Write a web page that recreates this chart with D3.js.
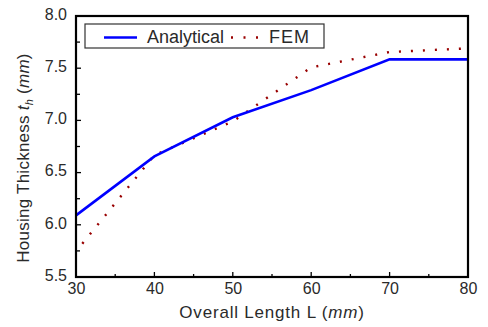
<!DOCTYPE html>
<html>
<head>
<meta charset="utf-8">
<script src="https://cdn.jsdelivr.net/npm/d3@7"></script>
<style>
  html, body { margin: 0; padding: 0; background: #fff; }
  svg { display: block; font-family: "Liberation Sans", Arial, sans-serif; }
</style>
</head>
<body>
<svg id="chart" width="488" height="327"></svg>
<script>
// ---- data ----
const lengthsAnalytical = [30, 40, 50, 60, 70, 80];
const thicknessAnalytical = [6.09, 6.655, 7.03, 7.29, 7.585, 7.585];
const lengthsFEM = [30, 40, 50, 60, 70, 80];
const thicknessFEM = [5.745, 6.668, 6.99, 7.508, 7.655, 7.69];
const xTicks = [30, 40, 50, 60, 70, 80];
const yTicks = [5.5, 6.0, 6.5, 7.0, 7.5, 8.0];
const seriesNames = ["Analytical", "FEM"];

(function () {
// ---- layout ----
const svg = d3.select("#chart");
const mL = 76, mR = 468, mT = 16, mB = 277;
const textColor = "#2a2a2a";
const x = d3.scaleLinear().domain([30, 80]).range([mL, mR]);
const y = d3.scaleLinear().domain([5.5, 8.0]).range([mB, mT]);

// minor ticks
const xMinor = d3.range(35, 80, 10);
const yMinor = d3.range(5.75, 8.0, 0.5);

// axes (ticks inside)
const xAxis = d3.axisBottom(x).tickValues(xTicks).tickFormat(d3.format("d")).tickSize(0).tickPadding(6);
const yAxis = d3.axisLeft(y).tickValues(yTicks).tickFormat(d3.format(".1f")).tickSize(0).tickPadding(9);

const gx = svg.append("g").attr("transform", `translate(0,${mB})`).call(xAxis);
gx.select(".domain").remove();
gx.selectAll("text").attr("font-size", 16).attr("fill", textColor).attr("font-family", "Liberation Sans, Arial, sans-serif");

const gy = svg.append("g").attr("transform", `translate(${mL},0)`).call(yAxis);
gy.select(".domain").remove();
gy.selectAll("text").attr("font-size", 16).attr("fill", textColor).attr("dy", "0.2em").attr("font-family", "Liberation Sans, Arial, sans-serif");

// tick marks inside
const tickG = svg.append("g").attr("stroke", "#000").attr("stroke-width", 1.3);
tickG.selectAll(".xt").data(xTicks).join("line")
  .attr("x1", d => x(d)).attr("x2", d => x(d)).attr("y1", mB).attr("y2", mB - 5);
tickG.selectAll(".xm").data(xMinor).join("line")
  .attr("x1", d => x(d)).attr("x2", d => x(d)).attr("y1", mB).attr("y2", mB - 3);
tickG.selectAll(".yt").data(yTicks).join("line")
  .attr("y1", d => y(d)).attr("y2", d => y(d)).attr("x1", mL).attr("x2", mL + 5);
tickG.selectAll(".ym").data(yMinor).join("line")
  .attr("y1", d => y(d)).attr("y2", d => y(d)).attr("x1", mL).attr("x2", mL + 4);

// lines
const lineGen = d3.line().x(d => x(d[0])).y(d => y(d[1]));
const fem = lengthsFEM.map((l, i) => [l, thicknessFEM[i]]);
const ana = lengthsAnalytical.map((l, i) => [l, thicknessAnalytical[i]]);

svg.append("path").datum(fem)
  .attr("d", lineGen)
  .attr("fill", "none").attr("stroke", "#990000").attr("stroke-width", 2.4)
  .attr("stroke-dasharray", "2 10").attr("stroke-dashoffset", 2);

svg.append("path").datum(ana)
  .attr("d", lineGen)
  .attr("fill", "none").attr("stroke", "#0000ff").attr("stroke-width", 2.6);

// frame
svg.append("rect").attr("x", mL).attr("y", mT).attr("width", mR - mL).attr("height", mB - mT)
  .attr("fill", "none").attr("stroke", "#000").attr("stroke-width", 2.2);

// legend
const lg = svg.append("g");
lg.append("rect").attr("x", 85).attr("y", 24).attr("width", 239).attr("height", 24)
  .attr("fill", "#fff").attr("stroke", "#333").attr("stroke-width", 1.2);
lg.append("line").attr("x1", 104).attr("x2", 137).attr("y1", 37.5).attr("y2", 37.5)
  .attr("stroke", "#0000ff").attr("stroke-width", 2.6);
lg.append("text").attr("x", 147).attr("y", 42.5).attr("font-size", 18).attr("fill", textColor).text(seriesNames[0]);
lg.append("line").attr("x1", 231).attr("x2", 259).attr("y1", 37.5).attr("y2", 37.5)
  .attr("stroke", "#990000").attr("stroke-width", 2.4).attr("stroke-dasharray", "2 10.5");
lg.append("text").attr("x", 269).attr("y", 42.5).attr("font-size", 18).attr("fill", textColor).attr("letter-spacing", 1).text(seriesNames[1]);

// axis titles
const xt = svg.append("text").attr("x", 272).attr("y", 318).attr("text-anchor", "middle")
  .attr("font-size", 17).attr("fill", textColor).attr("letter-spacing", 0.8);
xt.append("tspan").text("Overall Length L (");
xt.append("tspan").attr("font-style", "italic").text("mm");
xt.append("tspan").text(")");

const yt = svg.append("text").attr("transform", "translate(29,158) rotate(-90)").attr("text-anchor", "middle")
  .attr("font-size", 17).attr("fill", textColor).attr("letter-spacing", 0.25);
yt.append("tspan").text("Housing Thickness ");
yt.append("tspan").attr("font-style", "italic").text("t");
yt.append("tspan").attr("font-style", "italic").attr("font-size", 11).attr("dy", 4).text("h");
yt.append("tspan").attr("dy", -4).text(" (");
yt.append("tspan").attr("font-style", "italic").text("mm");
yt.append("tspan").text(")");
})();
</script>
</body>
</html>
